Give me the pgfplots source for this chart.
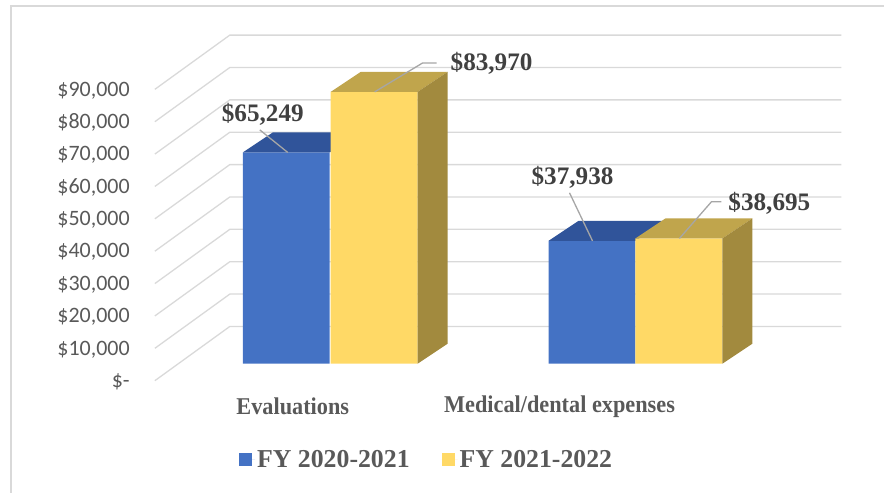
\documentclass[border=0pt]{standalone}
\usepackage{pgfplots}
\pgfplotsset{compat=1.18}
\usepackage{fontspec}
\setmainfont{Liberation Serif}
\newfontfamily\tickfont{Carlito}
\definecolor{barblue}{HTML}{4472C4}
\definecolor{bluetop}{HTML}{30549A}
\definecolor{baryellow}{HTML}{FFD966}
\definecolor{yellowtop}{HTML}{C0A54C}
\definecolor{yellowside}{HTML}{A28A3E}
\definecolor{gridgray}{HTML}{D9D9D9}
\definecolor{txtgray}{HTML}{595959}
\definecolor{lblgray}{HTML}{404040}
\definecolor{leadgray}{HTML}{A6A6A6}
\begin{document}
\begin{tikzpicture}
\begin{axis}[
  width=885pt, height=493pt, scale only axis,
  xmin=0, xmax=885, ymin=-39815, ymax=112346,
  hide axis, clip=false,
  legend style={at={(axis cs:427,-29630)}, anchor=center, legend columns=2,
    draw=none, fill=none,
    font=\color{txtgray}\bfseries\fontsize{25.8}{28}\selectfont,
    /tikz/every even column/.append style={column sep=30pt}},
]
\path (rel axis cs:0,0) rectangle (rel axis cs:1,1);
% outer border (left and top)
\addplot[forget plot, color=gridgray, line width=1.5pt] coordinates {(11,-39815) (11,110494) (885,110494)};
% gridlines: front oblique + back horizontal
\pgfplotsset{gl/.style={forget plot, color=gridgray, line width=1.3pt}}
\addplot[gl] coordinates {(155,-5247) (230,11500) (842,11500)};
\addplot[gl] coordinates {(155,4753) (230,21500) (842,21500)};
\addplot[gl] coordinates {(155,14753) (230,31500) (842,31500)};
\addplot[gl] coordinates {(155,24753) (230,41500) (842,41500)};
\addplot[gl] coordinates {(155,34753) (230,51500) (842,51500)};
\addplot[gl] coordinates {(155,44753) (230,61500) (842,61500)};
\addplot[gl] coordinates {(155,54753) (230,71500) (842,71500)};
\addplot[gl] coordinates {(155,64753) (230,81500) (842,81500)};
\addplot[gl] coordinates {(155,74753) (230,91500) (842,91500)};
\addplot[gl] coordinates {(155,84753) (230,101500) (842,101500)};
% y tick labels
\begin{scope}[every node/.style={anchor=east, inner sep=0pt, text=txtgray, font=\tickfont\fontsize{22}{26}\selectfont}]
\node at (axis cs:130,-5560) {\$-};
\node at (axis cs:130,4440) {\$10,000};
\node at (axis cs:130,14440) {\$20,000};
\node at (axis cs:130,24440) {\$30,000};
\node at (axis cs:130,34440) {\$40,000};
\node at (axis cs:130,44440) {\$50,000};
\node at (axis cs:130,54440) {\$60,000};
\node at (axis cs:130,64440) {\$70,000};
\node at (axis cs:130,74440) {\$80,000};
\node at (axis cs:130,84440) {\$90,000};
\end{scope}
% FY 2020-2021 (blue) front faces
\addplot[ybar, bar width=87, bar shift=0pt, fill=barblue, draw=none,
  legend image code/.code={\fill[barblue] (0pt,-6.5pt) rectangle (13pt,6.5pt); \path (0pt,0pt) -- (16pt,0pt);}]
  coordinates {(286.5,65249) (592.5,37938)};
\addlegendentry{FY 2020-2021}
% blue top faces
\addplot[forget plot, fill=bluetop, draw=none] coordinates {(243,65249) (273,71422) (360,71422) (330,65249)} -- cycle;
\addplot[forget plot, fill=bluetop, draw=none] coordinates {(549,37938) (579,44111) (666,44111) (636,37938)} -- cycle;
% FY 2021-2022 (yellow) front faces
\addplot[ybar, bar width=87, bar shift=0pt, fill=baryellow, draw=none,
  legend image code/.code={\fill[baryellow] (0pt,-6.5pt) rectangle (13pt,6.5pt); \path (0pt,0pt) -- (16pt,0pt);}]
  coordinates {(374.5,83970) (679.5,38695)};
\addlegendentry{FY 2021-2022}
% yellow top faces
\addplot[forget plot, fill=yellowtop, draw=none] coordinates {(331,83970) (361,90143) (448,90143) (418,83970)} -- cycle;
\addplot[forget plot, fill=yellowtop, draw=none] coordinates {(636,38695) (666,44868) (753,44868) (723,38695)} -- cycle;
% yellow side faces
\addplot[forget plot, fill=yellowside, draw=none] coordinates {(418,0) (418,83970) (448,90143) (448,6173)} -- cycle;
\addplot[forget plot, fill=yellowside, draw=none] coordinates {(723,0) (723,38695) (753,44868) (753,6173)} -- cycle;
% leader lines
\pgfplotsset{ld/.style={forget plot, color=leadgray, line width=1.3pt}}
\addplot[ld] coordinates {(260,72222) (288,65249)};
\addplot[ld] coordinates {(437,92901) (423,92901) (375,83970)};
\addplot[ld] coordinates {(570,52778) (593,37938)};
\addplot[ld] coordinates {(722,50000) (712,50000) (680,38695)};
% data labels
\begin{scope}[every node/.style={inner sep=0pt, text=lblgray, font=\bfseries\fontsize{25.2}{28}\selectfont}]
\node at (axis cs:263,77160) {\$65,249};
\node at (axis cs:492,92901) {\$83,970};
\node at (axis cs:573,57716) {\$37,938};
\node at (axis cs:770,49383) {\$38,695};
\end{scope}
% category labels
\begin{scope}[every node/.style={inner sep=0pt, text=txtgray, font=\bfseries\fontsize{22.3}{26}\selectfont}]
\node at (axis cs:293,-13272) {\scalebox{1}[1.08]{Evaluations}};
\node at (axis cs:560,-13272) {\scalebox{1}[1.08]{Medical/dental expenses}};
\end{scope}
\end{axis}
\end{tikzpicture}
\end{document}
